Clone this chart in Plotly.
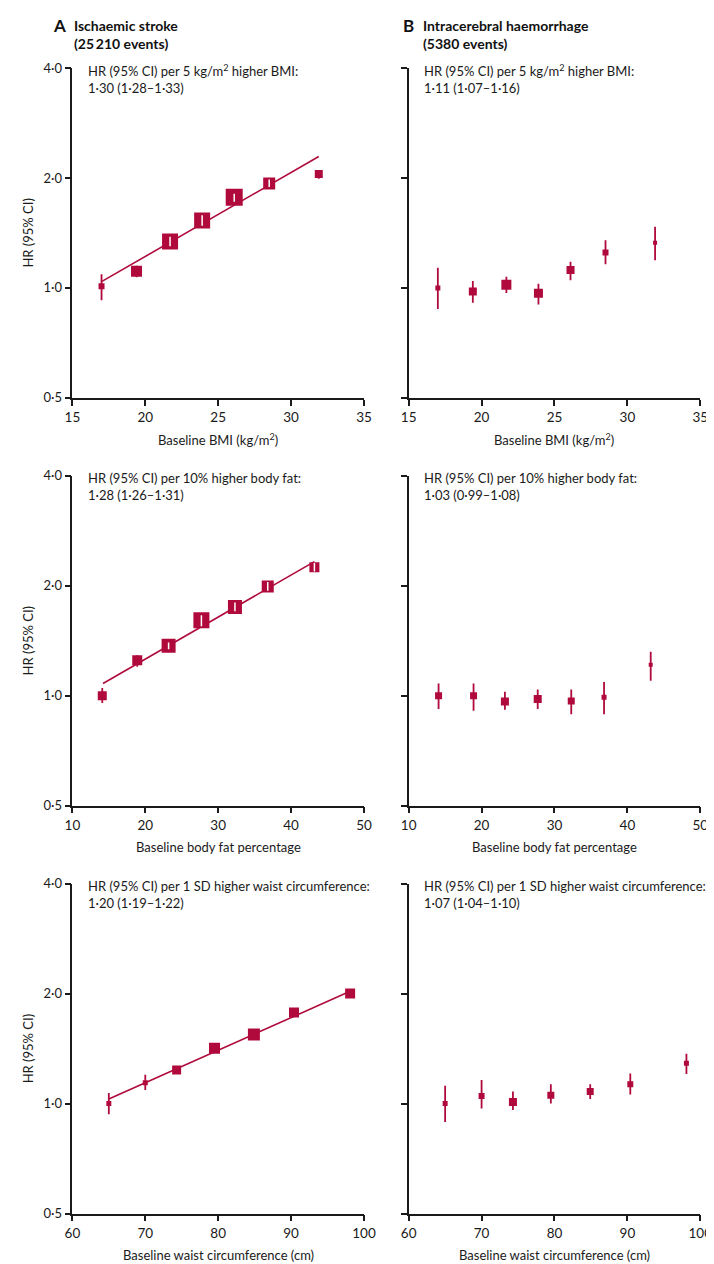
import plotly.graph_objects as go

# ---------------- data ----------------
bmi_x = [17.0, 19.4, 21.7, 23.9, 26.1, 28.5, 31.9]
fat_x = [14.1, 18.9, 23.2, 27.7, 32.3, 36.8, 43.2]
waist_x = [65.0, 70.0, 74.3, 79.5, 84.9, 90.4, 98.1]

isc_bmi_hr = [1.01, 1.11, 1.34, 1.53, 1.77, 1.93, 2.05]
isc_bmi_lo = [0.925, 1.07, 1.30, 1.48, 1.72, 1.89, 1.99]
isc_bmi_hi = [1.09, 1.15, 1.38, 1.58, 1.81, 1.98, 2.10]

ich_bmi_hr = [1.00, 0.978, 1.02, 0.966, 1.12, 1.25, 1.33]
ich_bmi_lo = [0.875, 0.91, 0.968, 0.90, 1.05, 1.16, 1.19]
ich_bmi_hi = [1.135, 1.045, 1.072, 1.027, 1.18, 1.35, 1.47]

isc_fat_hr = [1.00, 1.25, 1.37, 1.61, 1.75, 1.99, 2.25]
isc_fat_lo = [0.955, 1.20, 1.34, 1.55, 1.705, 1.94, 2.19]
isc_fat_hi = [1.05, 1.29, 1.40, 1.66, 1.80, 2.05, 2.31]

ich_fat_hr = [1.00, 1.00, 0.965, 0.98, 0.968, 0.99, 1.215]
ich_fat_lo = [0.92, 0.91, 0.915, 0.92, 0.89, 0.89, 1.10]
ich_fat_hi = [1.08, 1.08, 1.025, 1.04, 1.04, 1.09, 1.32]

isc_waist_hr = [1.00, 1.14, 1.236, 1.417, 1.546, 1.777, 2.004]
isc_waist_lo = [0.935, 1.09, 1.21, 1.39, 1.52, 1.75, 1.98]
isc_waist_hi = [1.07, 1.20, 1.26, 1.44, 1.57, 1.80, 2.03]

ich_waist_hr = [1.00, 1.05, 1.01, 1.055, 1.08, 1.13, 1.29]
ich_waist_lo = [0.89, 0.97, 0.96, 1.00, 1.03, 1.06, 1.205]
ich_waist_hi = [1.12, 1.16, 1.08, 1.13, 1.13, 1.21, 1.37]

isc_bmi_fit_x = [17.0, 31.9]
isc_bmi_fit_y = [1.04, 2.29]
isc_fat_fit_x = [14.2, 43.2]
isc_fat_fit_y = [1.08, 2.33]
isc_waist_fit_x = [65.0, 98.1]
isc_waist_fit_y = [1.03, 2.03]

y_tick_vals = [0.5, 1.0, 2.0, 4.0]
y_tick_text = ["0·5", "1·0", "2·0", "4·0"]
bmi_ticks = [15, 20, 25, 30, 35]
fat_ticks = [10, 20, 30, 40, 50]
waist_ticks = [60, 70, 80, 90, 100]

title_a = ["Ischaemic stroke", "(25\u2009210 events)"]
title_b = ["Intracerebral haemorrhage", "(5380 events)"]
x_titles = ["Baseline BMI (kg/m<sup>2</sup>)", "Baseline body fat percentage",
            "Baseline waist circumference (cm)"]
stats = [
    ["HR (95% CI) per 5 kg/m<sup>2</sup> higher BMI:<br>1·30 (1·28–1·33)",
     "HR (95% CI) per 5 kg/m<sup>2</sup> higher BMI:<br>1·11 (1·07–1·16)"],
    ["HR (95% CI) per 10% higher body fat:<br>1·28 (1·26–1·31)",
     "HR (95% CI) per 10% higher body fat:<br>1·03 (0·99–1·08)"],
    ["HR (95% CI) per 1 SD higher waist circumference:<br>1·20 (1·19–1·22)",
     "HR (95% CI) per 1 SD higher waist circumference:<br>1·07 (1·04–1·10)"],
]

# ---------------- style ----------------
W, H = 714, 1264
RED = "#B00A3C"
AX = "#1a1a1a"
FONT = "Lato"
FS = 13

col_px = [(58, 358), (404, 704)]
row_px = [(52.7, 386.7), (465.8, 799.8), (878.9, 1212.9)]

sizes = {
    (0, 0): [6, 11, 16, 16, 17, 12, 8],
    (0, 1): [5, 8, 10, 9, 8, 6, 4],
    (1, 0): [9, 10, 14, 16, 14, 12, 10],
    (1, 1): [7, 7, 8, 8, 7, 5, 4],
    (2, 0): [5, 5, 9, 11, 12, 10, 10],
    (2, 1): [5, 6, 8, 7, 7, 6, 5],
}
white_idx = {
    (0, 0): [2, 3, 4, 5],
    (1, 0): [2, 3, 4, 5, 6],
}

panels = {
    (0, 0): (bmi_x, isc_bmi_hr, isc_bmi_lo, isc_bmi_hi, (isc_bmi_fit_x, isc_bmi_fit_y), bmi_ticks),
    (0, 1): (bmi_x, ich_bmi_hr, ich_bmi_lo, ich_bmi_hi, None, bmi_ticks),
    (1, 0): (fat_x, isc_fat_hr, isc_fat_lo, isc_fat_hi, (isc_fat_fit_x, isc_fat_fit_y), fat_ticks),
    (1, 1): (fat_x, ich_fat_hr, ich_fat_lo, ich_fat_hi, None, fat_ticks),
    (2, 0): (waist_x, isc_waist_hr, isc_waist_lo, isc_waist_hi, (isc_waist_fit_x, isc_waist_fit_y), waist_ticks),
    (2, 1): (waist_x, ich_waist_hr, ich_waist_lo, ich_waist_hi, None, waist_ticks),
}

fig = go.Figure()
layout = {}
annotations = []

def px_x(p):
    return p / W

def px_y(p):
    return 1 - p / H

k = 0
for r in range(3):
    for c in range(2):
        k += 1
        xs, hr, lo, hi, fit, xt = panels[(r, c)]
        xa = "x" if k == 1 else f"x{k}"
        ya = "y" if k == 1 else f"y{k}"
        xkey = "xaxis" if k == 1 else f"xaxis{k}"
        ykey = "yaxis" if k == 1 else f"yaxis{k}"

        if fit is not None:
            fig.add_trace(go.Scatter(x=fit[0], y=fit[1], mode="lines",
                                     line=dict(color=RED, width=1.6),
                                     xaxis=xa, yaxis=ya, showlegend=False,
                                     hoverinfo="skip"))
        plus = [h - v for h, v in zip(hi, hr)]
        minus = [v - l for v, l in zip(hr, lo)]
        fig.add_trace(go.Scatter(
            x=xs, y=hr, mode="markers", opacity=1,
            marker=dict(symbol="square", size=sizes[(r, c)], color=RED,
                        opacity=1, line=dict(width=0)),
            error_y=dict(type="data", symmetric=False, array=plus,
                         arrayminus=minus, color=RED, thickness=1.8, width=0),
            xaxis=xa, yaxis=ya, showlegend=False))
        if (r, c) in white_idx:
            idx = white_idx[(r, c)]
            fig.add_trace(go.Scatter(
                x=[xs[i] for i in idx], y=[hr[i] for i in idx], mode="markers",
                marker=dict(symbol="square", size=1, color=RED, opacity=0,
                            line=dict(width=0)),
                error_y=dict(type="data", symmetric=False,
                             array=[plus[i] for i in idx],
                             arrayminus=[minus[i] for i in idx],
                             color="white", thickness=1.5, width=0),
                xaxis=xa, yaxis=ya, showlegend=False, hoverinfo="skip"))

        x0, x1 = col_px[c]
        t0, t1 = row_px[r]
        layout[xkey] = dict(
            domain=[px_x(x0), px_x(x1)], anchor=ya, range=[xt[0], xt[-1]],
            tickvals=xt, ticktext=[str(v) for v in xt],
            showline=True, linecolor=AX, linewidth=1.6, mirror=False,
            ticks="outside", ticklen=6, tickwidth=1.5, tickcolor=AX,
            showgrid=False, zeroline=False,
            tickfont=dict(family=FONT, size=13.5, color=AX))
        layout[ykey] = dict(
            domain=[px_y(t1), px_y(t0)], anchor=xa, type="log",
            range=[-0.30103, 0.60206], tickvals=y_tick_vals,
            ticktext=y_tick_text if c == 0 else ["", "", "", ""],
            showticklabels=(c == 0),
            showline=True, linecolor=AX, linewidth=1.6,
            ticks="outside", ticklen=6, tickwidth=1.5, tickcolor=AX,
            showgrid=False, zeroline=False,
            tickfont=dict(family=FONT, size=FS, color=AX))

        annotations.append(dict(
            text=stats[r][c], xref="paper", yref="paper",
            x=px_x(x0 + 14), y=px_y(t0 - 8), xanchor="left", yanchor="top",
            align="left", showarrow=False,
            font=dict(family=FONT, size=FS, color=AX)))
        annotations.append(dict(
            text=x_titles[r], xref="paper", yref="paper",
            x=px_x((x0 + x1) / 2), y=px_y(t1 + 42), xanchor="center",
            yanchor="middle", showarrow=False,
            font=dict(family=FONT, size=FS, color=AX)))
        if c == 0:
            annotations.append(dict(
                text="HR (95% CI)", xref="paper", yref="paper",
                x=px_x(12), y=px_y((t0 + t1) / 2), xanchor="center",
                yanchor="middle", textangle=-90, showarrow=False,
                font=dict(family=FONT, size=FS, color=AX)))

for letter, lx, tx, lines in [("A", 36, 58, title_a), ("B", 396, 417, title_b)]:
    annotations.append(dict(
        text=f"<b>{letter}</b>", xref="paper", yref="paper",
        x=px_x(lx), y=px_y(10), xanchor="left", yanchor="middle",
        showarrow=False, font=dict(family=FONT, size=17, color="#111111")))
    annotations.append(dict(
        text=f"<b>{lines[0]}</b>", xref="paper", yref="paper",
        x=px_x(tx), y=px_y(10), xanchor="left", yanchor="middle",
        showarrow=False, font=dict(family=FONT, size=FS + 1, color="#111111")))
    annotations.append(dict(
        text=f"<b>{lines[1]}</b>", xref="paper", yref="paper",
        x=px_x(tx), y=px_y(28), xanchor="left", yanchor="middle",
        showarrow=False, font=dict(family=FONT, size=FS + 1, color="#111111")))

fig.update_layout(
    width=W, height=H, margin=dict(l=0, r=0, t=0, b=0),
    paper_bgcolor="white", plot_bgcolor="white",
    annotations=annotations, showlegend=False, **layout)

fig.write_html("out.html")
